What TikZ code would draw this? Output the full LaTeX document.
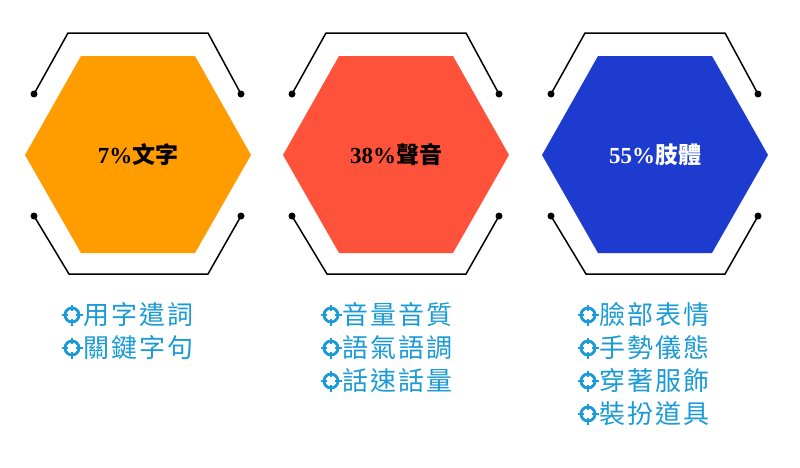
\documentclass[tikz,border=0pt]{standalone}
\usepackage{fontspec}
\newfontfamily\cjk[LetterSpace=8]{Noto Sans CJK TC}
\newfontfamily\cjkb{Noto Sans CJK TC Bold}
\newfontfamily\numf{Liberation Serif}
\definecolor{c1}{HTML}{FF9C00}
\definecolor{c2}{HTML}{FF523A}
\definecolor{c3}{HTML}{1E3BD0}
\definecolor{bl}{HTML}{1A9AD6}
\tikzset{frame/.style={line width=1.5pt,black},
 lbl/.style={font=\fontsize{23}{26}\selectfont\bfseries},
 item/.style={anchor=west,text=bl,font=\cjk\fontsize{26}{30}\selectfont,inner sep=0pt}}
\newcommand\icon[1]{\draw[bl,line width=2.8pt] (#1) circle (7);
 \foreach \a in {0,90,180,270}{\draw[bl,line width=2.8pt] ($(#1)+(\a:4)$) -- ($(#1)+(\a:10.5)$);}}
\usetikzlibrary{calc}
\begin{document}
\begin{tikzpicture}[x=1pt,y=-1pt]
\useasboundingbox (0,0) rectangle (800,467);
\foreach \dx/\c [count=\i] in {0/c1,258/c2,517/c3}{
 \begin{scope}[xshift=\dx]
 \fill[\c] (25,155) -- (81,56) -- (195,56) -- (251,155) -- (195,253) -- (81,253) -- cycle;
 \draw[frame] (34,94) -- (68,33) -- (208,33) -- (241,94);
 \draw[frame] (34,216) -- (69,274) -- (208,274) -- (241,216);
 \foreach \p in {(34,94),(241,94),(34,216),(241,216)} \fill \p circle (3.5);
 \end{scope}}
\node[lbl,text=black] (l1) at (138,155) {\numf 7\%\cjkb 文字};
\node[lbl,text=black] (l2) at (396,155) {\numf 38\%\cjkb 聲音};
\node[lbl,text=white] (l3) at (655,155) {\numf 55\%\cjkb 肢體};
\foreach \x/\lst in {72/{用字遣詞,關鍵字句},331/{音量音質,語氣語調,話速話量},588/{臉部表情,手勢儀態,穿著服飾,裝扮道具}}{
 \foreach \s [count=\j] in \lst {
  \coordinate (ic) at (\x,315+33*\j-33);
  \icon{ic}
  \node[item] at ($(ic)+(11,0)$) {\s};
 }}
\end{tikzpicture}
\end{document}
